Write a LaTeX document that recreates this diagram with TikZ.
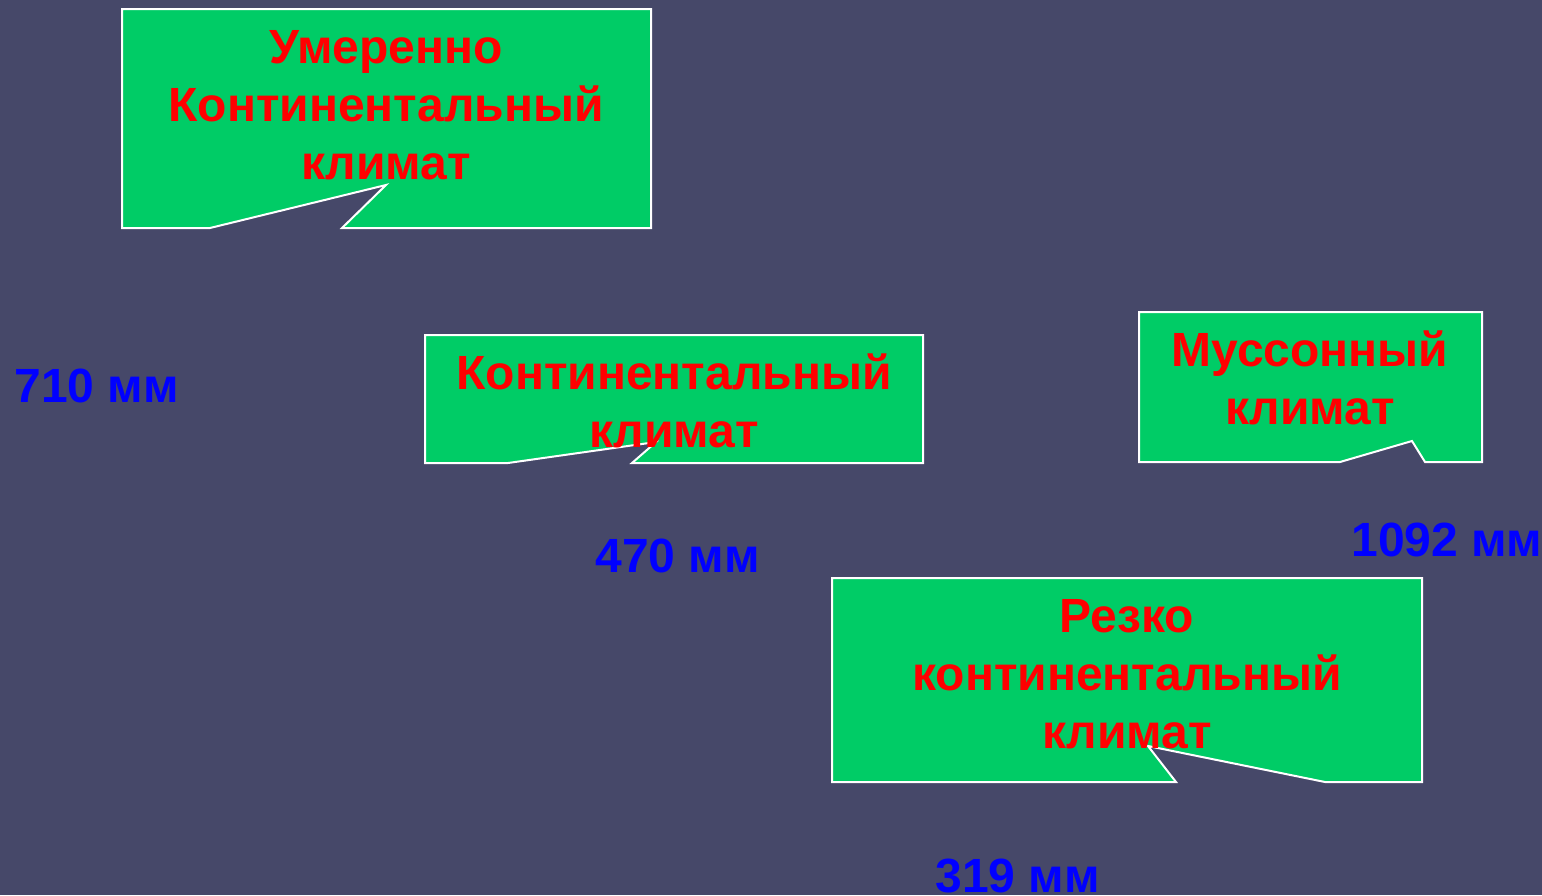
\documentclass[tikz,border=0pt]{standalone}
\usepackage{fontspec}
\setmainfont{Liberation Sans}
\usepackage{tikz}
\usepackage{xcolor}
\usetikzlibrary{positioning,calc}
\definecolor{slatebg}{HTML}{464869}
\definecolor{calloutgreen}{HTML}{00CC66}

\begin{document}
\begin{tikzpicture}[x=0.5pt, y=-0.5pt,
    callout/.style={fill=calloutgreen, draw=white, line width=1pt, line join=miter},
    climatelabel/.style={align=center, inner sep=0pt, font=\bfseries\fontsize{24}{29}\selectfont, text=red},
    rainlabel/.style={inner sep=0pt, anchor=west, font=\bfseries\fontsize{24}{29}\selectfont, text=blue}]
    % Background
    \fill[slatebg] (0,0) rectangle (1542,895);
    \useasboundingbox (0,0) rectangle (1542,895);

    % Temperate continental callout
    \draw[callout] (122,9) -- (651,9) -- (651,228) -- (342,228) -- (386,185) -- (210,228) -- (122,228) -- cycle;
    \node[climatelabel] (temperate) at (386,105) {Умеренно\\Континентальный\\климат};

    % Continental callout
    \draw[callout] (425,335) -- (923,335) -- (923,463) -- (632,463) -- (656,442) -- (508,463) -- (425,463) -- cycle;
    \node[climatelabel] (continental) at (674,401) {Континентальный\\климат};

    % Monsoon callout
    \draw[callout] (1139,312) -- (1482,312) -- (1482,462) -- (1425,462) -- (1412,441) -- (1340,462) -- (1139,462) -- cycle;
    \node[climatelabel] (monsoon) at (1310,378) {Муссонный\\климат};

    % Sharply continental callout
    \draw[callout] (832,578) -- (1422,578) -- (1422,782) -- (1325,782) -- (1148,746) -- (1176,782) -- (832,782) -- cycle;
    \node[climatelabel] (sharp) at (1127,674) {Резко\\континентальный\\климат};

    % Precipitation values
    \node[rainlabel] (rain710) at (14,386) {710 мм};
    \node[rainlabel] (rain470) at (595,556) {470 мм};
    \node[rainlabel] (rain1092) at (1351,540) {1092 мм};
    \node[rainlabel] (rain319) at (935,876) {319 мм};
\end{tikzpicture}
\end{document}
